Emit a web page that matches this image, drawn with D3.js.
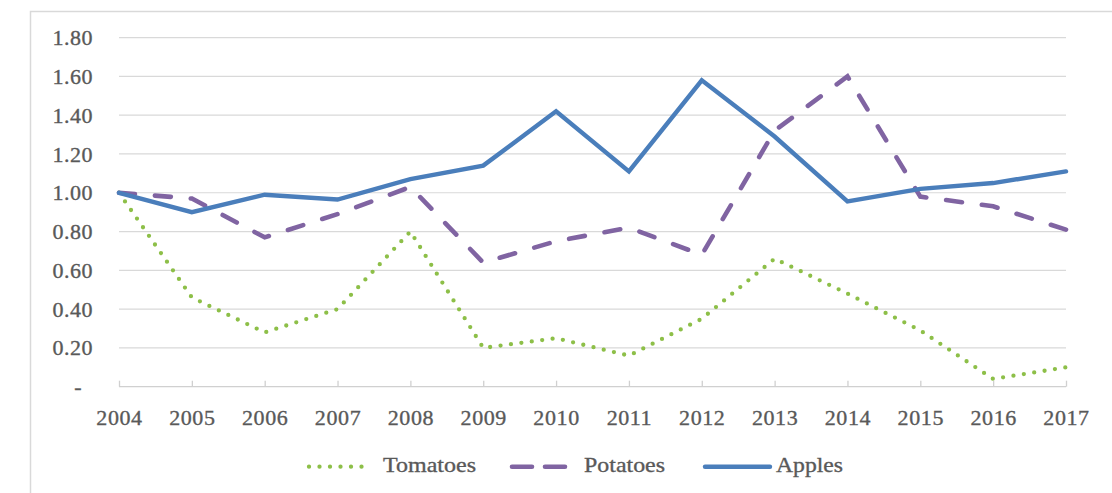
<!DOCTYPE html>
<html>
<head>
<meta charset="utf-8">
<script src="https://cdn.jsdelivr.net/npm/d3@7"></script>
<style>
  html, body { margin: 0; padding: 0; background: #fff; overflow: hidden; }
  svg { display: block; }
</style>
</head>
<body>
<svg id="chart" width="1112" height="493"></svg>
<script>
const years = ["2004","2005","2006","2007","2008","2009","2010","2011","2012","2013","2014","2015","2016","2017"];
const tomatoes = [1.00,0.46,0.28,0.40,0.80,0.20,0.25,0.16,0.35,0.66,0.48,0.29,0.04,0.10];
const potatoes = [1.00,0.97,0.77,0.89,1.03,0.64,0.75,0.82,0.68,1.32,1.60,0.98,0.93,0.81];
const apples   = [1.00,0.90,0.99,0.965,1.07,1.14,1.42,1.11,1.58,1.29,0.955,1.02,1.05,1.11];
const yTicks = [0,0.2,0.4,0.6,0.8,1.0,1.2,1.4,1.6,1.8];
const seriesNames = ["Tomatoes","Potatoes","Apples"];

const svg = d3.select("#chart");
const W = 1112, H = 493;
const textColor = "#595959";
const fontFam = "'Liberation Serif', 'Times New Roman', serif";

function styleText(sel, size, ls) {
  sel.attr("font-family", fontFam).attr("font-size", size)
    .attr("fill", textColor).attr("stroke", textColor).attr("stroke-width", 0.35)
    .attr("letter-spacing", ls + "px");
}

svg.append("rect").attr("width", W).attr("height", H).attr("fill", "#fff");
// chart-area border (extends beyond the picture on right and bottom)
svg.append("rect").attr("x", 30.5).attr("y", 11.5).attr("width", 1200).attr("height", 600)
  .attr("fill", "#fff").attr("stroke", "#d9d9d9").attr("stroke-width", 1.5);

const x = d3.scalePoint().domain(years).range([119, 1066]);
const y = d3.scaleLinear().domain([0, 1.8]).range([386.7, 37.6]);

// gridlines
svg.append("g").selectAll("line").data(yTicks.filter(d => d > 0)).join("line")
  .attr("x1", 119).attr("x2", 1066)
  .attr("y1", d => y(d)).attr("y2", d => y(d))
  .attr("stroke", "#d9d9d9").attr("stroke-width", 1.2);

// y axis labels
const yAxis = d3.axisLeft(y).tickValues(yTicks).tickSize(0).tickPadding(0)
  .tickFormat(d => d === 0 ? "-" : d3.format(".2f")(d));
const gy = svg.append("g").attr("transform", "translate(93,0)").call(yAxis);
gy.select(".domain").remove();
styleText(gy.selectAll("text"), 22, 0.5);
gy.selectAll("text").attr("x", d => d === 0 ? -11 : 0);

// x axis
const xAxis = d3.axisBottom(x).tickSize(-6).tickPadding(0).tickSizeOuter(0);
const gx = svg.append("g").attr("transform", `translate(0,${y(0)})`).call(xAxis);
gx.select(".domain").attr("stroke", "#d0d0d0").attr("stroke-width", 1.3)
  .attr("d", `M119,0H1066`);
gx.selectAll(".tick line").attr("stroke", "#d0d0d0").attr("stroke-width", 1.3);
styleText(gx.selectAll(".tick text"), 22, 0.6);
gx.selectAll(".tick text").attr("y", 38).attr("dy", 0);

const line = d3.line().x((d, i) => x(years[i])).y(d => y(d));

const styles = {
  Tomatoes: { color: "#8dbf48", width: 4.3, dash: "0,10.5", data: tomatoes },
  Potatoes: { color: "#8064a2", width: 4.6, dash: "16,20", data: potatoes },
  Apples:   { color: "#4a7ebb", width: 4.4, dash: null, data: apples }
};

seriesNames.forEach(name => {
  const s = styles[name];
  svg.append("path").datum(s.data)
    .attr("d", line)
    .attr("fill", "none")
    .attr("stroke", s.color)
    .attr("stroke-width", s.width)
    .attr("stroke-linecap", "round")
    .attr("stroke-linejoin", name === "Tomatoes" ? "round" : "miter")
    .attr("stroke-dasharray", s.dash);
});

// legend
const legendItems = [
  { name: "Tomatoes", x0: 309, x1: 372, tx: 383, tw: 93 },
  { name: "Potatoes", x0: 512, x1: 565, tx: 584, tw: 81 },
  { name: "Apples",   x0: 705, x1: 770, tx: 776, tw: 67 }
];
const ly = 466.7;
const lg = svg.append("g");
legendItems.forEach(it => {
  const s = styles[it.name];
  lg.append("line").attr("x1", it.x0).attr("x2", it.x1).attr("y1", ly).attr("y2", ly)
    .attr("stroke", s.color).attr("stroke-width", s.width)
    .attr("stroke-linecap", "round")
    .attr("stroke-dasharray", it.name === "Potatoes" ? "20,13" : s.dash);
  const t = lg.append("text").attr("x", it.tx).attr("y", 471.5)
    .attr("textLength", it.tw).attr("lengthAdjust", "spacingAndGlyphs")
    .text(it.name);
  styleText(t, 22, 0);
});
</script>
</body>
</html>
